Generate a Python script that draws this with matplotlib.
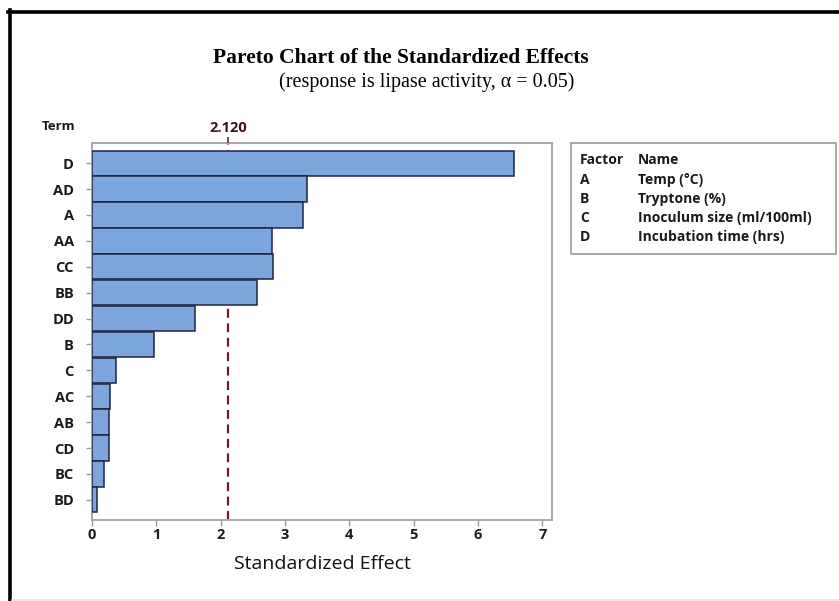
import matplotlib
matplotlib.use("Agg")
import matplotlib.pyplot as plt
from matplotlib.lines import Line2D

# Standardized effects, in Pareto order (largest at top)
terms = ["D", "AD", "A", "AA", "CC", "BB", "DD", "B", "C", "AC", "AB", "CD", "BC", "BD"]
effects = [6.56, 3.34, 3.28, 2.80, 2.81, 2.57, 1.60, 0.96, 0.37, 0.28, 0.27, 0.27, 0.19, 0.08]
critical_value = 2.120

factor_codes = ["A", "B", "C", "D"]
factor_names = ["Temp (°C)", "Tryptone (%)", "Inoculum size (ml/100ml)", "Incubation time (hrs)"]

W, H = 839, 601
fig = plt.figure(figsize=(W / 100, H / 100), dpi=100)
fig.patch.set_facecolor("white")

def fx(px):
    return px / W

def fy(py):
    return 1 - py / H

ax = fig.add_axes([fx(92), fy(520), fx(552) - fx(92), fy(143) - fy(520)])

ypos = list(range(len(terms)))
ax.barh(ypos, effects, height=0.98, color="#7BA5DB", edgecolor="#1C2540",
        linewidth=1.1, zorder=3)
ax.axvline(critical_value, color="#6E1A24", linestyle=(0, (4, 2.5)),
           linewidth=1.6, zorder=1)

ax.set_xlim(0, 7.15)
ax.set_ylim(len(terms) - 0.5 + 0.28, -0.5 - 0.28)
ax.set_yticks(ypos)
ax.set_yticklabels(terms)
ax.set_xticks(range(0, 8))

for lab in ax.get_yticklabels() + ax.get_xticklabels():
    lab.set_fontfamily("Open Sans")
    lab.set_fontweight("bold")
    lab.set_fontsize(10.5)
    lab.set_color("#1a1a1a")

ax.tick_params(axis="y", length=4, width=1, color="#9a9a9a", pad=9)
ax.tick_params(axis="x", length=4, width=1, color="#9a9a9a", pad=2)
for s in ax.spines.values():
    s.set_color("#a8a8a8")
    s.set_linewidth(1.4)

ax.set_xlabel("Standardized Effect", family="Open Sans", size=14, color="#111111",
              labelpad=9)

# top axis carrying the critical value
top = ax.twiny()
top.set_xlim(ax.get_xlim())
top.set_xticks([critical_value])
top.set_xticklabels([f"{critical_value:.3f}"])
top.tick_params(axis="x", length=4, width=1.2, color="#5a3030", pad=2)
for lab in top.get_xticklabels():
    lab.set_fontfamily("Open Sans")
    lab.set_fontweight("bold")
    lab.set_fontsize(10.5)
    lab.set_color("#3a1515")
for s in top.spines.values():
    s.set_visible(False)

fig.text(fx(42), fy(126), "Term", family="Open Sans", weight="bold", size=9.5,
         color="#1a1a1a", va="center", ha="left")

# titles
fig.text(fx(401), fy(58), "Pareto Chart of the Standardized Effects",
         family="Liberation Serif", weight="bold", size=15.5, ha="center", va="center")
fig.text(fx(427), fy(82), "(response is lipase activity, α = 0.05)",
         family="Liberation Serif", size=14.5, ha="center", va="center")

# factor key box
box = plt.Rectangle((fx(571), fy(254)), fx(836) - fx(571), fy(143) - fy(254),
                    transform=fig.transFigure, facecolor="white", edgecolor="#a8a8a8",
                    linewidth=1.4)
fig.add_artist(box)
key_font = dict(family="Open Sans", weight="bold", size=10, color="#1a1a1a", va="center")
rows_y = [160, 180, 199, 218, 237]
fig.text(fx(580), fy(rows_y[0]), "Factor", **key_font)
fig.text(fx(638), fy(rows_y[0]), "Name", **key_font)
for code, name, y in zip(factor_codes, factor_names, rows_y[1:]):
    fig.text(fx(580), fy(y), code, **key_font)
    fig.text(fx(638), fy(y), name, **key_font)

# outer frame
fig.add_artist(Line2D([fx(9.5), fx(9.5)], [fy(10), fy(601)], transform=fig.transFigure,
                      color="black", linewidth=2.6))
fig.add_artist(Line2D([fx(8), fx(839)], [fy(11.5), fy(11.5)], transform=fig.transFigure,
                      color="black", linewidth=2.6))
fig.add_artist(Line2D([fx(12), fx(839)], [fy(599.5), fy(599.5)], transform=fig.transFigure,
                      color="#e4e4e4", linewidth=1.2))

fig.savefig("out.png", dpi=100)
